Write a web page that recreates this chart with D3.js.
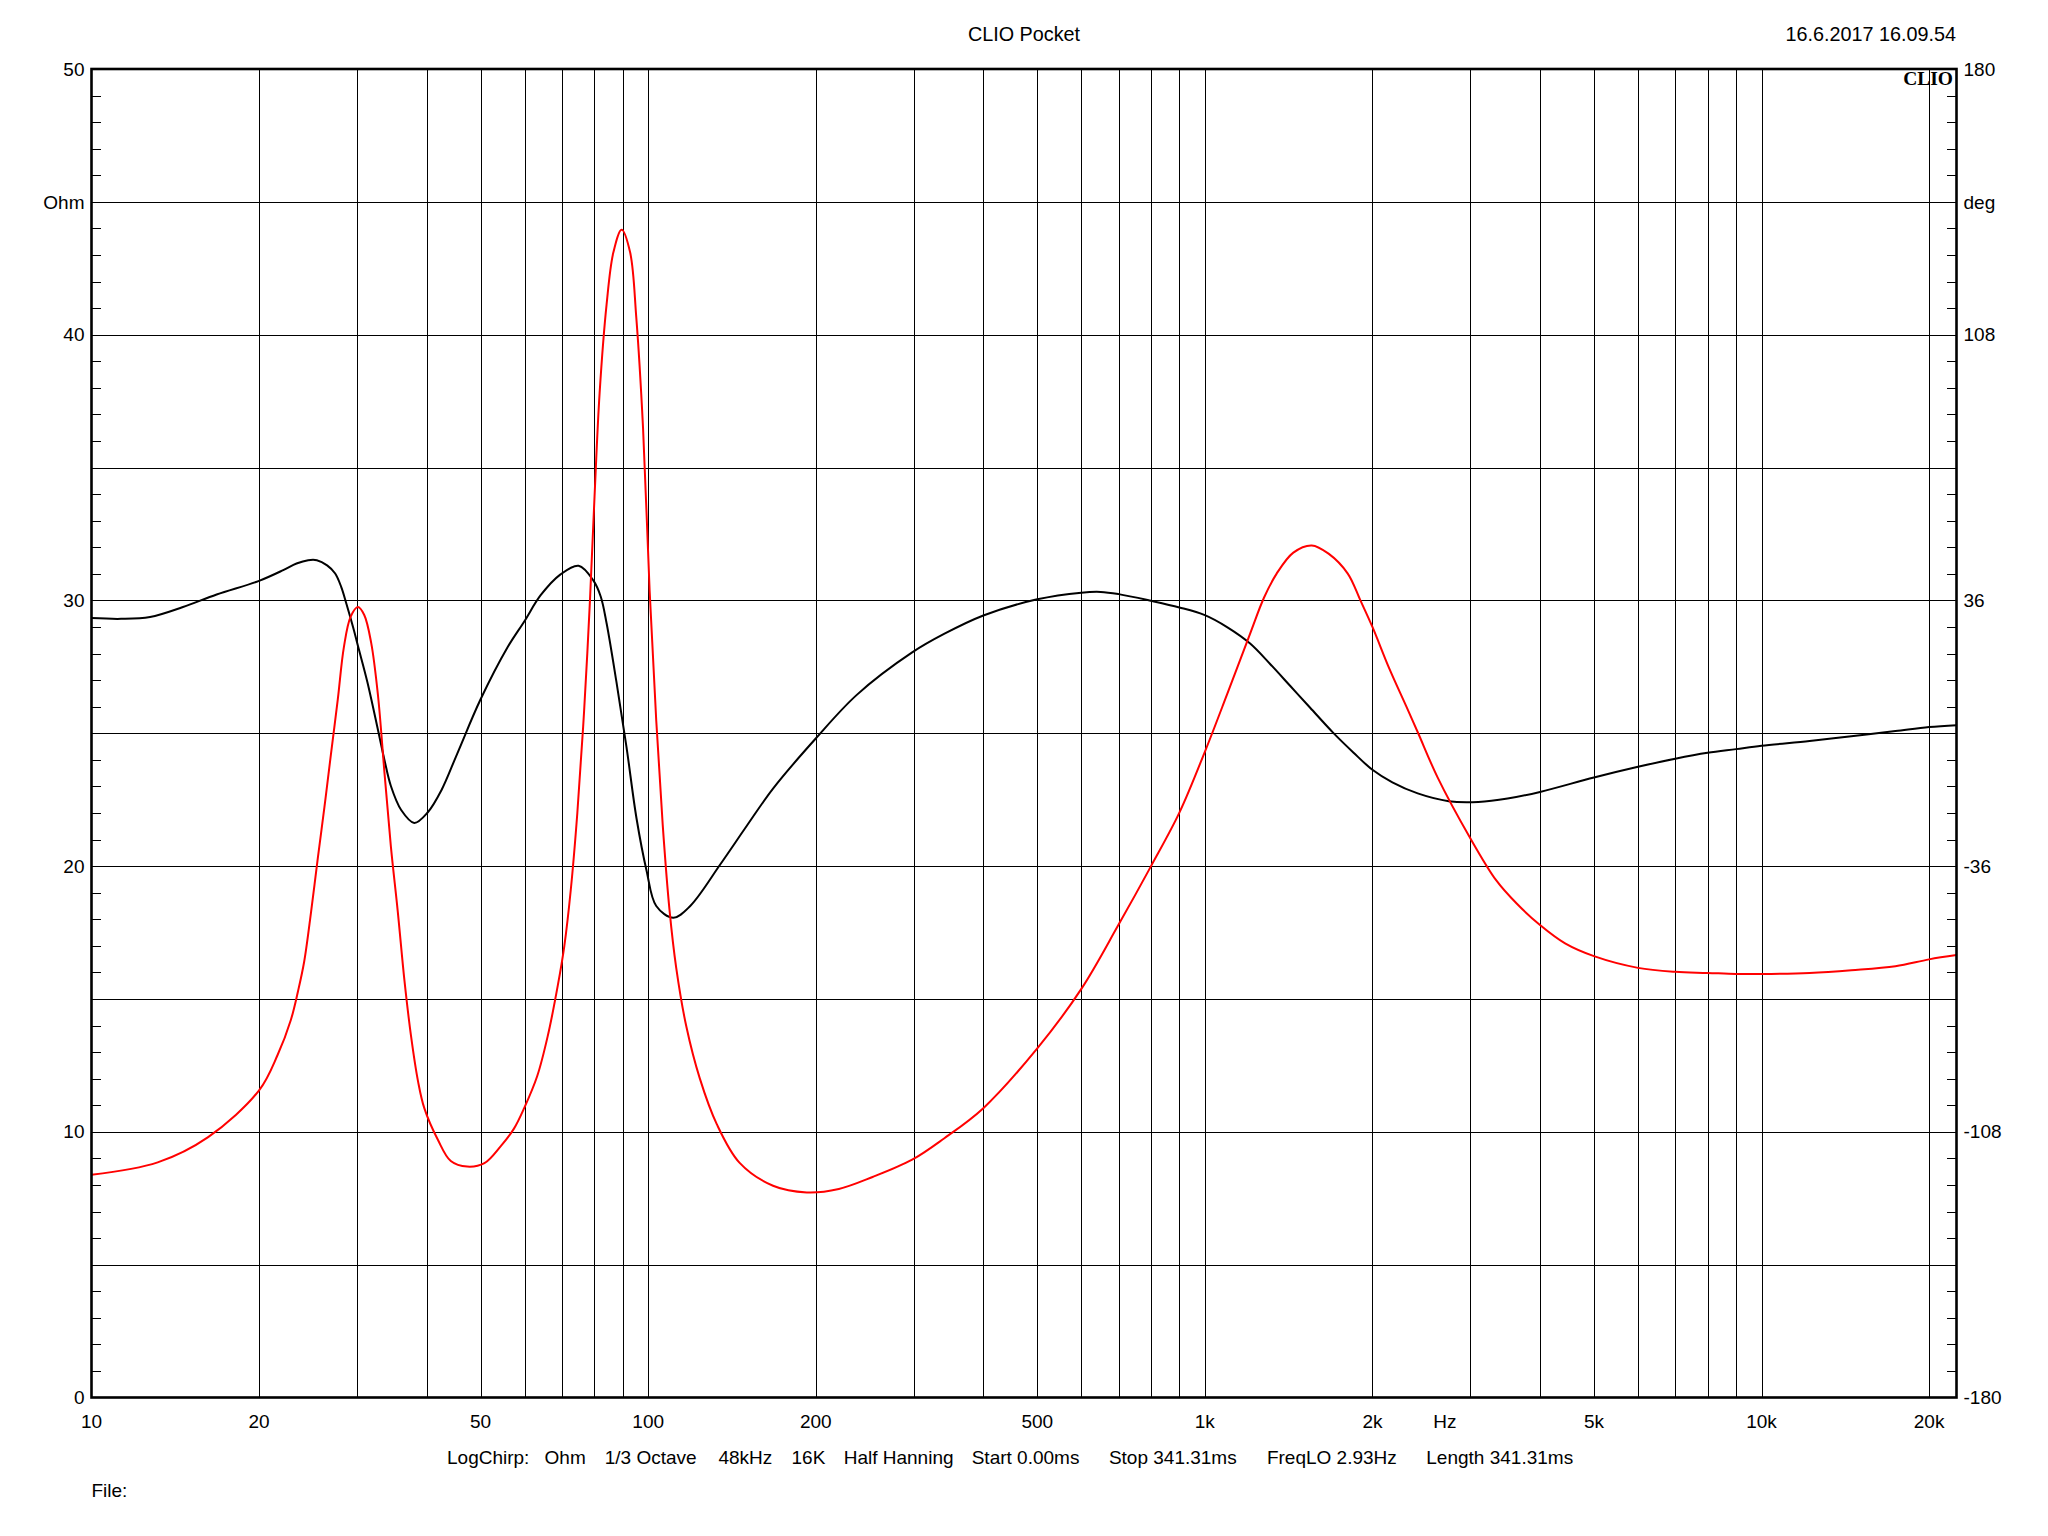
<!DOCTYPE html>
<html>
<head>
<meta charset="utf-8">
<script src="https://cdn.jsdelivr.net/npm/d3@7/dist/d3.min.js"></script>
<style>
  html, body { margin: 0; padding: 0; background: #fff; }
  svg { display: block; }
  text { font-family: "Liberation Sans", Arial, sans-serif; font-size: 19px; fill: #000; }
</style>
</head>
<body>
<svg id="chart" width="2048" height="1536"></svg>
<script>
// ---------------- DATA ----------------
// Impedance magnitude (red, left axis, Ohm)
const redFreq = [10, 13.15, 16.2, 20, 21.6, 22.8, 23.5, 24.1, 24.8, 25.5, 26.2, 26.9, 27.7, 28.4, 29.2, 30.1, 30.9, 31.8, 32.7, 33.6, 34.5, 35.5, 36.5, 37.5, 38.6, 39.6, 41.9, 44.2, 47.3, 50.8, 54.4, 57.4, 59.9, 63.2, 66.0, 68.8, 70.7, 72.6, 74.6, 76.7, 78.6, 80.1, 81.8, 84.2, 86.6, 89.6, 92.8, 95.2, 97.9, 100.6, 103.4, 106.2, 109.2, 112.3, 117.1, 123.8, 132.8, 146, 167.6, 192.7, 220, 253, 298, 340, 400, 500, 600, 700, 800, 900, 1000, 1098, 1206, 1277, 1345, 1442, 1556, 1668, 1806, 1903, 2000, 2143, 2303, 2418, 2616, 3000, 3336, 3632, 4000, 4437, 5000, 6000, 7000, 8000, 9000, 10000, 12200, 14500, 17400, 20000, 22400];
const redOhm  = [8.38, 8.85, 9.80, 11.56, 12.90, 14.20, 15.30, 16.40, 18.28, 20.30, 22.20, 24.15, 26.28, 28.23, 29.38, 29.75, 29.45, 28.40, 26.44, 23.50, 20.73, 18.28, 15.67, 13.60, 11.90, 10.90, 9.70, 8.90, 8.69, 8.82, 9.47, 10.12, 10.90, 12.10, 13.60, 15.50, 17.00, 19.10, 22.00, 25.80, 30.00, 33.90, 37.80, 41.14, 43.10, 43.95, 43.10, 40.65, 36.49, 30.37, 25.47, 21.55, 18.37, 16.17, 13.96, 12.01, 10.29, 8.83, 7.97, 7.72, 7.85, 8.30, 8.95, 9.75, 10.89, 13.14, 15.38, 17.80, 19.99, 22.01, 24.30, 26.50, 28.75, 30.10, 31.00, 31.80, 32.07, 31.76, 31.01, 30.00, 29.00, 27.45, 25.99, 24.99, 23.36, 21.04, 19.47, 18.59, 17.78, 17.09, 16.61, 16.17, 16.02, 15.98, 15.94, 15.94, 15.98, 16.08, 16.23, 16.49, 16.65];

// Impedance phase (black, right axis, degrees)
const blackFreq = [10, 11.3, 12.74, 14.6, 16.78, 20, 22.1, 23.35, 24.5, 25.4, 26.5, 27.4, 28.1, 28.7, 29.5, 30.2, 31.3, 32.7, 33.6, 34.5, 36.0, 38.0, 40.2, 42.5, 45.4, 50.0, 55.9, 59.9, 64.1, 69.5, 75, 79.8, 82.2, 84.2, 87.7, 91.4, 95.3, 99.3, 103.4, 111, 119, 134.8, 150.5, 167.6, 199.8, 237, 298, 340, 400, 500, 600, 650, 700, 800, 900, 1000, 1098, 1206, 1311, 1424, 1546, 1701, 1848, 2000, 2172, 2412, 2742, 3099, 3498, 4000, 5000, 6000, 7000, 8000, 9000, 10000, 12200, 14500, 17400, 20000, 22400];
const blackDeg  = [31.2, 31.0, 31.5, 34.2, 37.6, 41.3, 44.2, 46.0, 46.9, 46.9, 45.5, 43.3, 39.6, 35.1, 28.8, 22.9, 13.9, 0.95, -7.3, -14.3, -20.8, -24.3, -21.4, -15.5, -5.5, 9.2, 23.3, 30.3, 37.4, 43.0, 45.4, 41.3, 37.0, 29.8, 13.9, -3.6, -23.1, -37.1, -46.8, -50.0, -46.8, -35.5, -25.0, -15.0, -1.5, 10.4, 21.9, 26.9, 31.9, 36.3, 38.1, 38.3, 37.7, 35.9, 34.1, 32.0, 28.7, 24.3, 18.7, 12.8, 6.9, 0.1, -5.2, -9.9, -13.3, -16.3, -18.4, -18.6, -17.7, -15.9, -12.0, -9.1, -6.9, -5.3, -4.3, -3.4, -2.1, -0.8, 0.6, 1.7, 2.2];

// Axis / tick labels
const xTickValues = [10, 20, 50, 100, 200, 500, 1000, 2000, 5000, 10000, 20000];
const xTickLabels = ["10", "20", "50", "100", "200", "500", "1k", "2k", "5k", "10k", "20k"];
const xGridValues = [20, 30, 40, 50, 60, 70, 80, 90, 100, 200, 300, 400, 500, 600, 700, 800, 900, 1000, 2000, 3000, 4000, 5000, 6000, 7000, 8000, 9000, 10000, 20000];
const xUnitLabel = "Hz";
const xUnitFreq = 2700;
const leftTickValues = [0, 10, 20, 30, 40, 50];
const leftUnitLabel = "Ohm";
const leftUnitValue = 45;
const rightTickValues = [-180, -108, -36, 36, 108, 180];
const rightUnitLabel = "deg";
const rightUnitValue = 144;
const titleText = "CLIO Pocket";
const dateText = "16.6.2017 16.09.54";
const logoText = "CLIO";
const infoItems = ["LogChirp:", "Ohm", "1/3 Octave", "48kHz", "16K", "Half Hanning", "Start 0.00ms", "Stop 341.31ms", "FreqLO 2.93Hz", "Length 341.31ms"];
const fileText = "File:";

// ---------------- LAYOUT ----------------
const L = 91.5, R = 1956.5, T = 69, B = 1397.5;
const svg = d3.select("#chart");

const x = d3.scaleLog().domain([10, 22400]).range([L, R]);
const yOhm = d3.scaleLinear().domain([0, 50]).range([B, T]);
const yDeg = d3.scaleLinear().domain([-180, 180]).range([B, T]);
const px = v => Math.round(v) + 0.5;

// grid
const grid = svg.append("g").attr("stroke", "#000").attr("stroke-width", 1).attr("shape-rendering", "crispEdges");
grid.selectAll("line.v").data(xGridValues).join("line")
  .attr("x1", d => px(x(d))).attr("x2", d => px(x(d)))
  .attr("y1", T).attr("y2", B);
grid.selectAll("line.h").data(d3.range(5, 50, 5)).join("line")
  .attr("class", "h")
  .attr("x1", L).attr("x2", R)
  .attr("y1", d => px(yOhm(d))).attr("y2", d => px(yOhm(d)));

// minor ticks (every 1 Ohm, not on 5 multiples)
const minor = d3.range(1, 50).filter(d => d % 5 !== 0);
const ticks = svg.append("g").attr("stroke", "#000").attr("stroke-width", 1).attr("shape-rendering", "crispEdges");
ticks.selectAll("line.l").data(minor).join("line").attr("class", "l")
  .attr("x1", L).attr("x2", L + 9.5)
  .attr("y1", d => px(yOhm(d))).attr("y2", d => px(yOhm(d)));
ticks.selectAll("line.r").data(minor).join("line").attr("class", "r")
  .attr("x1", R - 10).attr("x2", R)
  .attr("y1", d => px(yOhm(d))).attr("y2", d => px(yOhm(d)));

// curves
const lineRed = d3.line().x(d => x(d[0])).y(d => yOhm(d[1])).curve(d3.curveCatmullRom.alpha(0.5));
const lineBlack = d3.line().x(d => x(d[0])).y(d => yDeg(d[1])).curve(d3.curveCatmullRom.alpha(0.5));

svg.append("path")
  .datum(blackFreq.map((f, i) => [f, blackDeg[i]]))
  .attr("d", lineBlack).attr("fill", "none").attr("stroke", "#000").attr("stroke-width", 2);
svg.append("path")
  .datum(redFreq.map((f, i) => [f, redOhm[i]]))
  .attr("d", lineRed).attr("fill", "none").attr("stroke", "#ff0000").attr("stroke-width", 2);

// frame
svg.append("rect").attr("x", L).attr("y", T).attr("width", R - L).attr("height", B - T)
  .attr("fill", "none").attr("stroke", "#000").attr("stroke-width", 2.6);

// left labels
svg.selectAll("text.yl").data(leftTickValues).join("text").attr("class", "yl")
  .attr("x", L - 7).attr("y", d => yOhm(d)).attr("dy", "0.35em").attr("text-anchor", "end")
  .text(d => d);
svg.append("text").attr("x", L - 7).attr("y", yOhm(leftUnitValue)).attr("dy", "0.35em")
  .attr("text-anchor", "end").text(leftUnitLabel);

// right labels
svg.selectAll("text.yr").data(rightTickValues).join("text").attr("class", "yr")
  .attr("x", R + 7).attr("y", d => yDeg(d)).attr("dy", "0.35em").attr("text-anchor", "start")
  .text(d => d);
svg.append("text").attr("x", R + 7).attr("y", yDeg(rightUnitValue)).attr("dy", "0.35em")
  .attr("text-anchor", "start").text(rightUnitLabel);

// x labels
svg.selectAll("text.xl").data(xTickValues).join("text").attr("class", "xl")
  .attr("x", d => x(d)).attr("y", 1421).attr("dy", "0.35em").attr("text-anchor", "middle")
  .text((d, i) => xTickLabels[i]);
svg.append("text").attr("x", x(xUnitFreq)).attr("y", 1421).attr("dy", "0.35em")
  .attr("text-anchor", "middle").text(xUnitLabel);

// title, date, logo
svg.append("text").attr("x", 1024).attr("y", 34).attr("dy", "0.35em").attr("text-anchor", "middle")
  .style("font-size", "19.8px").text(titleText);
svg.append("text").attr("x", 1956).attr("y", 34).attr("dy", "0.35em").attr("text-anchor", "end")
  .style("font-size", "19.8px").text(dateText);
svg.append("text").attr("x", 1953).attr("y", 85)
  .style("font-family", "'Liberation Serif', 'Times New Roman', serif")
  .style("font-weight", "bold").style("font-size", "19.5px")
  .attr("text-anchor", "end").text(logoText);

// info line
const infoX = [447, 544.6, 604.7, 718.4, 791.5, 843.7, 971.7, 1108.9, 1266.9, 1426.3];
svg.selectAll("text.info").data(infoItems).join("text").attr("class", "info")
  .attr("x", (d, i) => infoX[i]).attr("y", 1457).attr("dy", "0.35em").text(d => d);
svg.append("text").attr("x", 91.5).attr("y", 1490).attr("dy", "0.35em").text(fileText);
</script>
</body>
</html>
